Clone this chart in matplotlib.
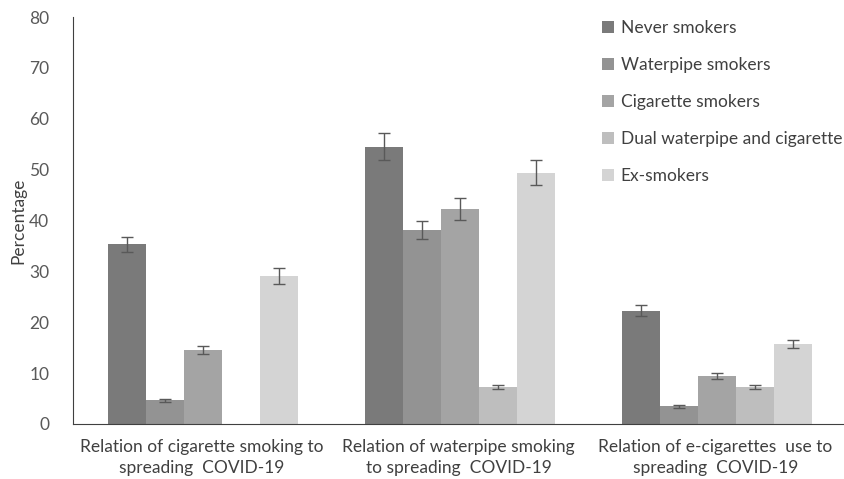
import numpy as np
import matplotlib.pyplot as plt

plt.rcParams['font.family'] = ['Lato', 'DejaVu Sans']

categories = ['Relation of cigarette smoking to\nspreading  COVID-19',
              'Relation of waterpipe smoking\nto spreading  COVID-19',
              'Relation of e-cigarettes  use to\nspreading  COVID-19']
groups = ['Never smokers', 'Waterpipe smokers', 'Cigarette smokers',
          'Dual waterpipe and cigarette', 'Ex-smokers']
never = [35.3, 54.5, 22.3]
waterpipe = [4.7, 38.2, 3.5]
cigarette = [14.6, 42.3, 9.5]
dual = [0.0, 7.2, 7.2]
ex = [29.1, 49.4, 15.8]
never_err = [1.5, 2.7, 1.1]
waterpipe_err = [0.3, 1.8, 0.3]
cigarette_err = [0.8, 2.2, 0.6]
dual_err = [0.0, 0.4, 0.4]
ex_err = [1.5, 2.5, 0.8]

series = [never, waterpipe, cigarette, dual, ex]
errors = [never_err, waterpipe_err, cigarette_err, dual_err, ex_err]
colors = ['#7a7a7a', '#939393', '#a4a4a4', '#bebebe', '#d4d4d4']

fig = plt.figure(figsize=(8.44, 4.79), dpi=100)
ax = fig.add_axes([73 / 844, 1 - 424 / 479, 1 - 73 / 844, (424 - 17) / 479])

x = np.arange(len(categories))
w = 0.148
for i, (vals, errs, c, lab) in enumerate(zip(series, errors, colors, groups)):
    pos = x + (i - 2) * w + 0.006
    ax.bar(pos, vals, width=w, color=c, label=lab, zorder=2)
    mask = np.array(vals) > 0
    ax.errorbar(pos[mask], np.array(vals)[mask], yerr=np.array(errs)[mask],
                fmt='none', ecolor='#595959', elinewidth=1, capsize=4,
                capthick=1, zorder=3)

ax.set_xlim(-0.5, 2.5)
ax.set_ylim(0, 80)
ax.set_yticks(range(0, 81, 10))
ax.set_xticks(x)
ax.set_xticklabels(categories, fontsize=12.5, color='#404040', linespacing=1.4)
ax.tick_params(axis='y', labelsize=12.5, colors='#595959', length=0, pad=17)
ax.tick_params(axis='x', length=0, pad=11)
ax.set_ylabel('Percentage', fontsize=12.5, color='#404040', labelpad=2)

for s in ['top', 'right']:
    ax.spines[s].set_visible(False)
ax.spines['left'].set_color('#404040')
ax.spines['bottom'].set_color('#404040')

ax.legend(loc='upper right', bbox_to_anchor=(1.018, 1.03), frameon=False,
          fontsize=12.5, labelspacing=1.2, handlelength=0.7, handleheight=0.7,
          handletextpad=0.4, labelcolor='#404040')

plt.savefig('out.png', dpi=100)
plt.close()
